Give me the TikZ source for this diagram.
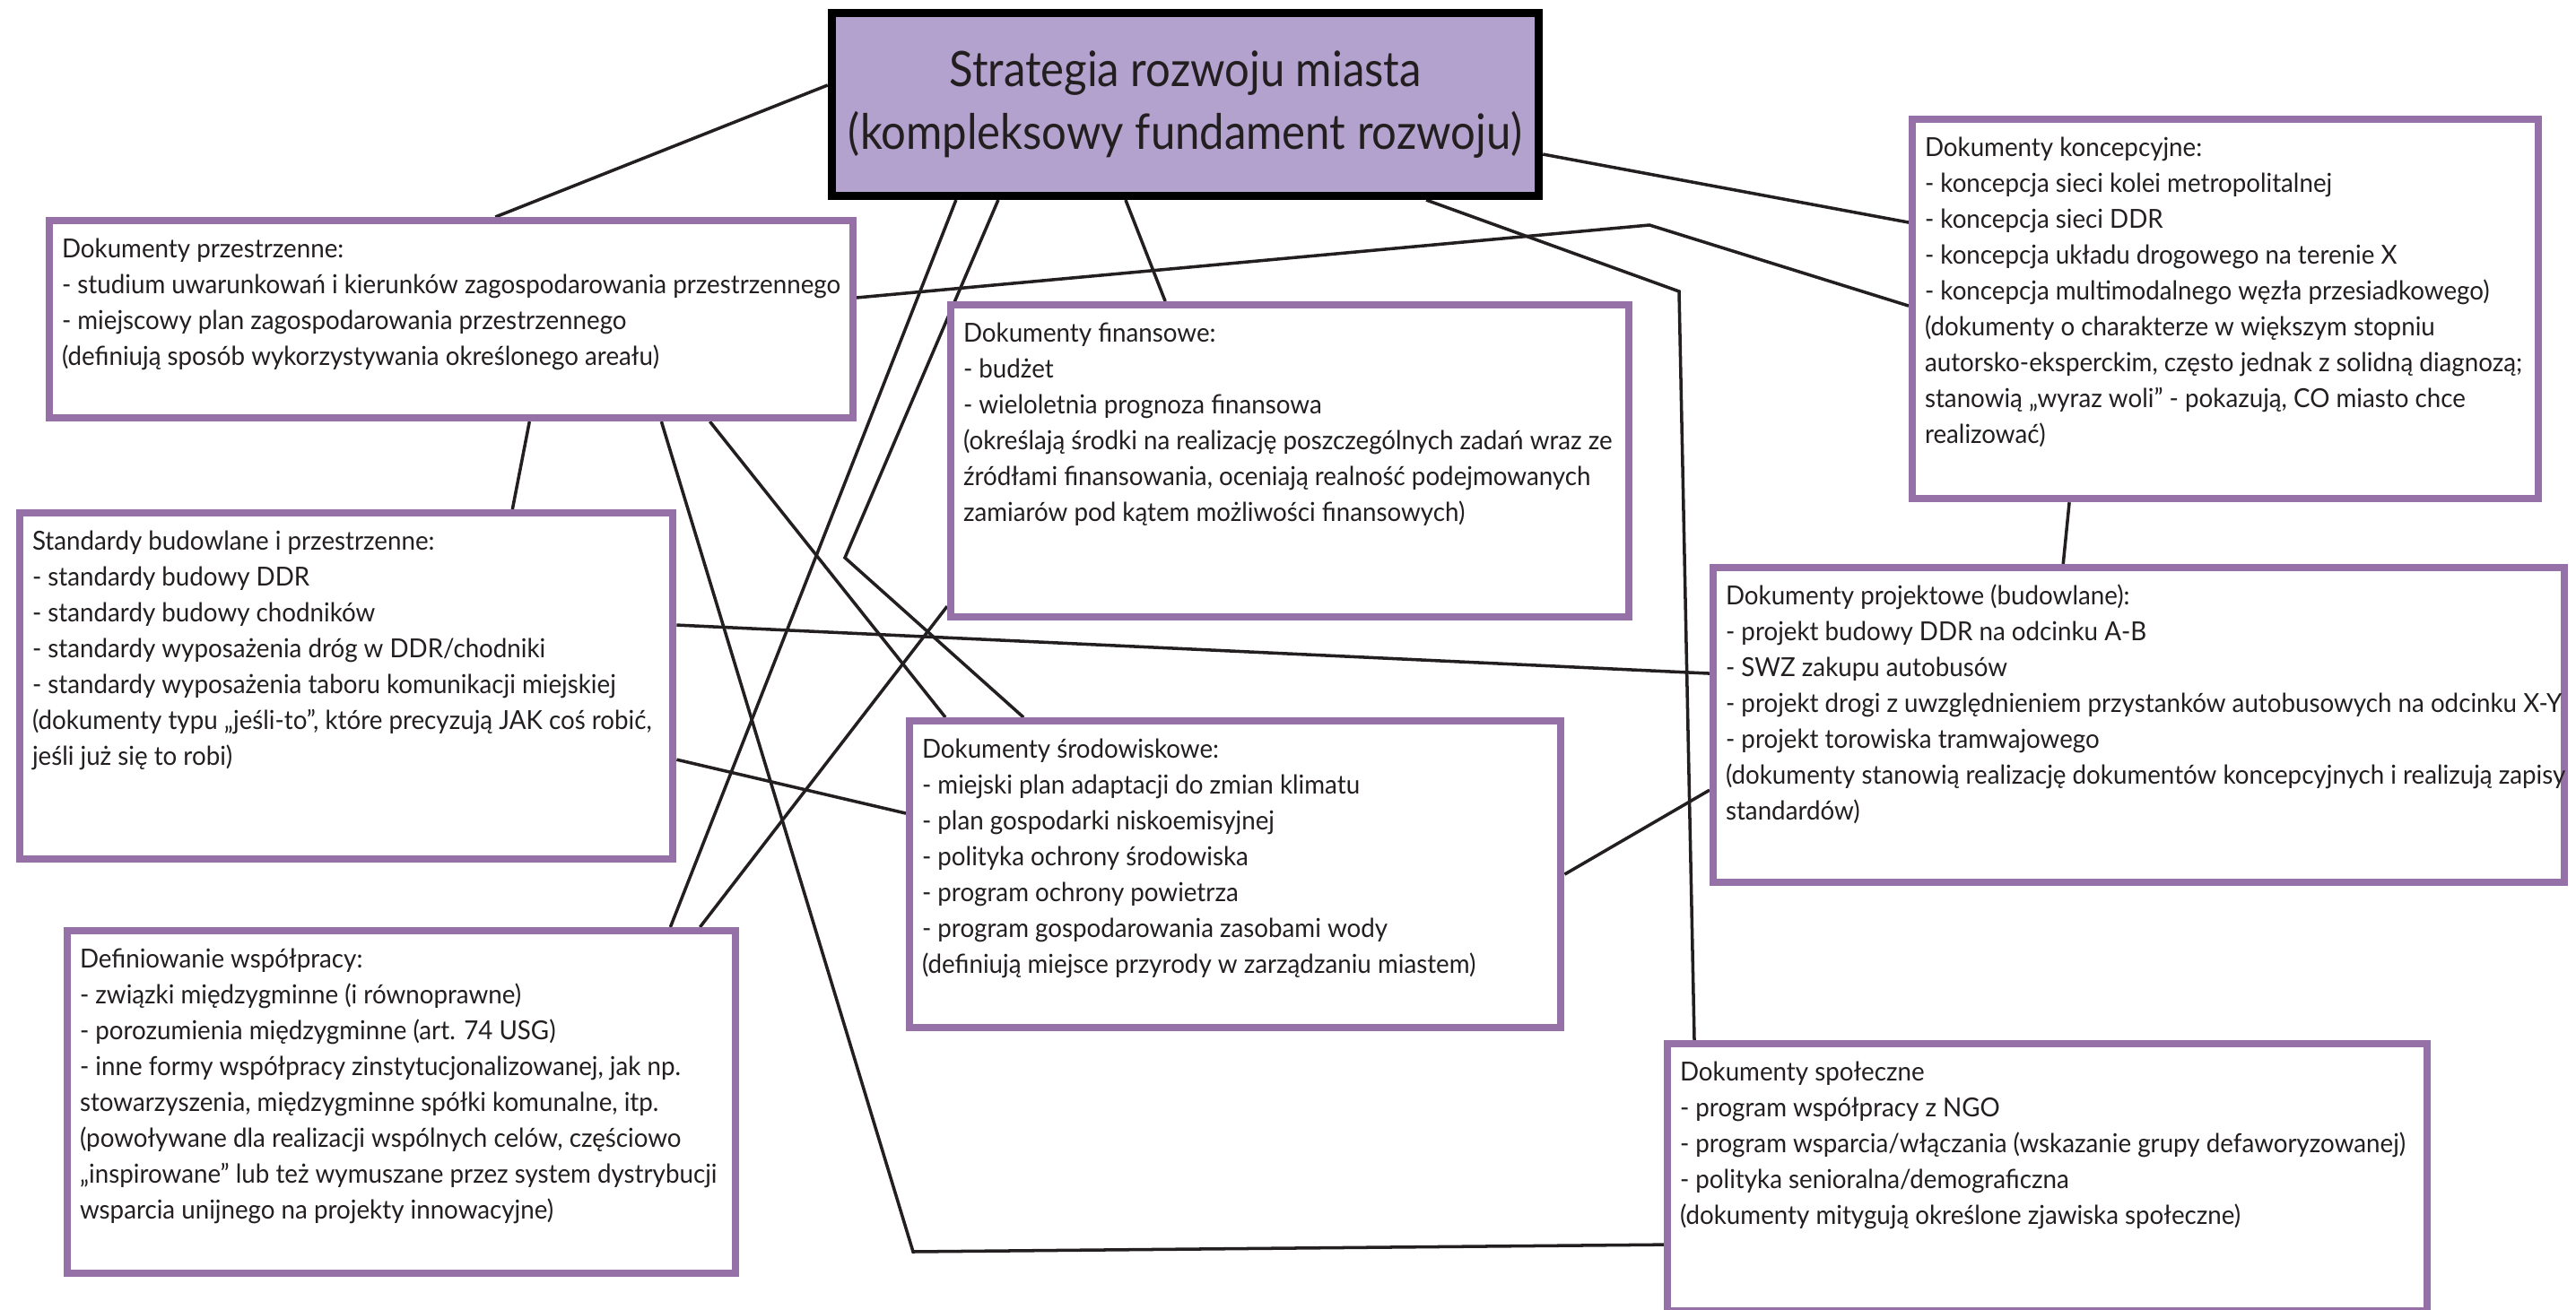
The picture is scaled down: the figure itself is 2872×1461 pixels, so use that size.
\documentclass[tikz,border=0pt]{standalone}
\usepackage{fontspec}
\setmainfont{Lato}[FakeStretch=0.95]
\newfontfamily\titlefont{Lato}[FakeStretch=0.90]
\usetikzlibrary{backgrounds}
\definecolor{docpurple}{RGB}{150,113,168}
\definecolor{mainlilac}{RGB}{180,162,206}
\definecolor{inkgray}{RGB}{35,31,32}
\newcommand{\doctext}[3]{\parbox[t][#2][t]{#1}{\begin{tabular}[t]{@{}l@{}}#3\end{tabular}}}

\begin{document}
\begin{tikzpicture}[x=0.01cm,y=0.01cm]
\tikzstyle{docbox}=[draw=docpurple, line width=0.08cm, fill=white, anchor=north west, inner xsep=0.14cm, inner ysep=0.13cm, text=inkgray, font=\fontsize{8.3pt}{0.4cm}\selectfont]
\tikzstyle{mainbox}=[draw=black, line width=0.09cm, fill=mainlilac, minimum width=7.88cm, minimum height=2.04cm, inner sep=0pt, align=center, text=inkgray, font=\titlefont\fontsize{15.5pt}{0.7cm}\selectfont]
\tikzstyle{link}=[draw=inkgray, line width=1pt]
\useasboundingbox (0,0) rectangle (2872,-1461);
\node [mainbox] (main) at (1321.5,-116.5) {Strategia rozwoju miasta\\(kompleksowy fundament rozwoju)};
\node [docbox] (przestrz) at (51,-242) {\doctext{8.67cm}{1.94cm}{Dokumenty przestrzenne:\\- studium uwarunkowań i kierunków zagospodarowania przestrzennego\\- miejscowy plan zagospodarowania przestrzennego\\(definiują sposób wykorzystywania określonego areału)}};
\node [docbox] (finans) at (1056,-336) {\doctext{7.28cm}{3.22cm}{Dokumenty finansowe:\\- budżet\\- wieloletnia prognoza finansowa\\(określają środki na realizację poszczególnych zadań wraz ze\\źródłami finansowania, oceniają realność podejmowanych\\zamiarów pod kątem możliwości finansowych)}};
\node [docbox] (koncep) at (2128,-129) {\doctext{6.70cm}{3.97cm}{Dokumenty koncepcyjne:\\- koncepcja sieci kolei metropolitalnej\\- koncepcja sieci DDR\\- koncepcja układu drogowego na terenie X\\- koncepcja multimodalnego węzła przesiadkowego)\\(dokumenty o charakterze w większym stopniu\\autorsko-eksperckim, często jednak z solidną diagnozą;\\stanowią „wyraz woli” - pokazują, CO miasto chce\\realizować)}};
\node [docbox] (standard) at (18,-568) {\doctext{7.00cm}{3.60cm}{Standardy budowlane i przestrzenne:\\- standardy budowy DDR\\- standardy budowy chodników\\- standardy wyposażenia dróg w DDR/chodniki\\- standardy wyposażenia taboru komunikacji miejskiej\\(dokumenty typu „jeśli-to”, które precyzują JAK coś robić,\\jeśli już się to robi)}};
\node [docbox] (projekt) at (1906,-629) {\doctext{9.20cm}{3.25cm}{Dokumenty projektowe (budowlane):\\- projekt budowy DDR na odcinku A-B\\- SWZ zakupu autobusów\\- projekt drogi z uwzględnieniem przystanków autobusowych na odcinku X-Y\\- projekt torowiska tramwajowego\\(dokumenty stanowią realizację dokumentów koncepcyjnych i realizują zapisy\\standardów)}};
\node [docbox] (srodow) at (1010,-800) {\doctext{6.98cm}{3.16cm}{Dokumenty środowiskowe:\\- miejski plan adaptacji do zmian klimatu\\- plan gospodarki niskoemisyjnej\\- polityka ochrony środowiska\\- program ochrony powietrza\\- program gospodarowania zasobami wody\\(definiują miejsce przyrody w zarządzaniu miastem)}};
\node [docbox] (wspol) at (71,-1034) {\doctext{7.17cm}{3.56cm}{Definiowanie współpracy:\\- związki międzygminne (i równoprawne)\\- porozumienia międzygminne (art. 74 USG)\\- inne formy współpracy zinstytucjonalizowanej, jak np.\\stowarzyszenia, międzygminne spółki komunalne, itp.\\(powoływane dla realizacji wspólnych celów, częściowo\\„inspirowane” lub też wymuszane przez system dystrybucji\\wsparcia unijnego na projekty innowacyjne)}};
\node [docbox] (spolecz) at (1855,-1160) {\doctext{8.18cm}{2.72cm}{Dokumenty społeczne\\- program współpracy z NGO\\- program wsparcia/włączania (wskazanie grupy defaworyzowanej)\\- polityka senioralna/demograficzna\\(dokumenty mitygują określone zjawiska społeczne)}};
\coordinate (bendA) at (942,-622);
\coordinate (bendB) at (1018,-1396);
\coordinate (bendC) at (1839,-251);
\coordinate (bendD) at (1872,-325);
\begin{scope}[on background layer]
\draw [link] ([yshift=0.215cm]main.west) -- ([xshift=0.495cm]przestrz.north);
\draw [link] ([yshift=-0.555cm]main.east) -- ([yshift=0.965cm]koncep.west);
\draw [link] ([xshift=-0.665cm]main.south) -- ([xshift=-1.39cm]finans.north);
\draw [link] ([xshift=-2.555cm]main.south) -- ([xshift=2.995cm]wspol.north);
\draw [link] ([xshift=-2.085cm]main.south) -- (bendA) -- ([xshift=-2.36cm]srodow.north);
\draw [link] ([xshift=2.685cm]main.south) -- (bendD) -- ([xshift=-3.93cm]spolecz.north);
\draw [link] ([xshift=2.345cm]przestrz.south) -- (bendB) -- ([yshift=-0.75cm]spolecz.west);
\draw [link] ([xshift=2.885cm]przestrz.south) -- ([xshift=-3.23cm]srodow.north);
\draw [link] ([xshift=0.875cm]przestrz.south) -- ([xshift=1.85cm]standard.north);
\draw [link] ([yshift=0.24cm]przestrz.east) -- (bendC) -- ([yshift=0.035cm]koncep.west);
\draw [link] ([yshift=0.68cm]standard.east) -- ([yshift=0.575cm]projekt.west);
\draw [link] ([yshift=-0.82cm]standard.east) -- ([yshift=0.68cm]srodow.west);
\draw [link] ([xshift=-1.74cm]koncep.south) -- ([xshift=-0.84cm]projekt.north);
\draw [link] (srodow.east) -- ([yshift=-0.725cm]projekt.west);
\draw [link] ([yshift=-1.62cm]finans.west) -- ([xshift=3.325cm]wspol.north);
\end{scope}
\end{tikzpicture}
\end{document}
